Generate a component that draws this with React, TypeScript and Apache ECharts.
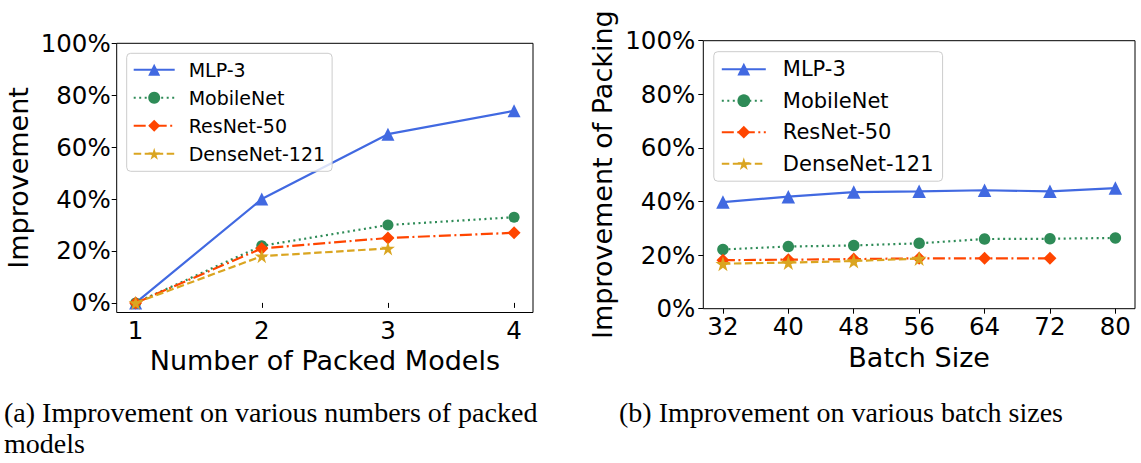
import React, { useEffect, useRef } from "react";
import * as echarts from "echarts";

const seriesNames = ["MLP-3", "MobileNet", "ResNet-50", "DenseNet-121"];

const packedModels = [1, 2, 3, 4];
const mlpPacked = [0, 40, 65, 74];
const mobilePacked = [0, 22, 30, 33];
const resnetPacked = [0, 21, 25, 27];
const densePacked = [0, 18, 21];

const batchSizes = [32, 40, 48, 56, 64, 72, 80];
const mlpBatch = [39.8, 41.8, 43.5, 43.8, 44.2, 43.8, 45.0];
const mobileBatch = [22.1, 23.2, 23.6, 24.4, 26.0, 26.1, 26.4];
const resnetBatch = [18.1, 18.3, 18.5, 18.8, 18.8, 18.8];
const denseBatch = [16.8, 17.2, 17.8, 18.7];

const yTicks = [0, 20, 40, 60, 80, 100];

const captionA1 = "(a) Improvement on various numbers of packed";
const captionA2 = "models";
const captionB = "(b) Improvement on various batch sizes";

const STAR =
  "path://M50 0 L61.23 34.55 L97.55 34.55 L68.17 55.9 L79.39 90.45 L50 69.1 L20.61 90.45 L31.83 55.9 L2.45 34.55 L38.77 34.55 Z";

const colors = ["#4169E1", "#2E8B57", "#FF4500", "#DAA520"];
const symbols = ["triangle", "circle", "diamond", STAR];
const dashes: any[] = ["solid", [2, 3.5], [12, 3.5, 2, 3.5], [7.5, 3.5]];

const FONT = "DejaVu Sans";

function zip(xs: number[], ys: number[]) {
  return ys.map((y, i) => [xs[i], y]);
}

export default function App() {
  const ref = useRef<HTMLDivElement>(null);
  useEffect(() => {
    if (!ref.current) return;
    const chart = echarts.init(ref.current, null, { renderer: "svg" });

    const packedData = [mlpPacked, mobilePacked, resnetPacked, densePacked];
    const batchData = [mlpBatch, mobileBatch, resnetBatch, denseBatch];
    const symSizeA = [13, 11, 13, 14];
    const symSizeB = [13.5, 11.5, 13, 15];

    const mkSeries = (idx: number, xs: number[], vals: number[], grid: number, size: number) => ({
      type: "line",
      name: seriesNames[idx],
      xAxisIndex: grid,
      yAxisIndex: grid,
      data: zip(xs, vals),
      symbol: symbols[idx],
      symbolSize: size,
      showSymbol: true,
      color: colors[idx],
      itemStyle: { color: colors[idx] },
      lineStyle: { color: colors[idx], width: 2.2, type: dashes[idx], cap: "butt" },
      z: 2 + idx,
    });

    const series: any[] = [];
    for (let i = 0; i < 4; i++) series.push(mkSeries(i, packedModels, packedData[i], 0, symSizeA[i]));
    for (let i = 0; i < 4; i++) series.push(mkSeries(i, batchSizes, batchData[i], 1, symSizeB[i]));

    const tickLabel = { fontFamily: FONT, fontSize: 24.5, color: "#000" };
    const nameStyle = { fontFamily: FONT, fontSize: 27, color: "#000" };
    const tick = { show: true, length: 5, inside: false, lineStyle: { color: "#000", width: 1 } };

    const legendCommon = {
      orient: "vertical",
      backgroundColor: "rgba(255,255,255,0.8)",
      borderColor: "#cccccc",
      borderWidth: 1,
      borderRadius: 4,
      data: seriesNames,
      selectedMode: false,
    };

    const option: any = {
      animation: false,
      grid: [
        { left: 116.7, top: 43.3, width: 416.3, height: 269.2, show: true, borderColor: "#000", borderWidth: 1, backgroundColor: "transparent" },
        { left: 703.3, top: 40.7, width: 431.7, height: 268, show: true, borderColor: "#000", borderWidth: 1, backgroundColor: "transparent" },
      ],
      xAxis: [
        {
          type: "value", gridIndex: 0, min: 0.85, max: 4.15,
          axisLine: { show: false }, splitLine: { show: false },
          axisTick: { ...tick, customValues: packedModels },
          axisLabel: { ...tickLabel, margin: 5, customValues: packedModels },
          name: "Number of Packed Models", nameLocation: "middle", nameGap: 31, nameTextStyle: nameStyle,
        },
        {
          type: "value", gridIndex: 1, min: 29.6, max: 82.4,
          axisLine: { show: false }, splitLine: { show: false },
          axisTick: { ...tick, customValues: batchSizes },
          axisLabel: { ...tickLabel, margin: 5, customValues: batchSizes },
          name: "Batch Size", nameLocation: "middle", nameGap: 31, nameTextStyle: nameStyle,
        },
      ],
      yAxis: [
        {
          type: "value", gridIndex: 0, min: -3.7, max: 100,
          axisLine: { show: false }, splitLine: { show: false },
          axisTick: { ...tick, customValues: yTicks },
          axisLabel: { ...tickLabel, margin: 6, customValues: yTicks, formatter: (v: number) => v + "%" },
          name: "Improvement", nameLocation: "middle", nameGap: 85, nameTextStyle: nameStyle,
        },
        {
          type: "value", gridIndex: 1, min: 0, max: 100,
          axisLine: { show: false }, splitLine: { show: false },
          axisTick: { ...tick, customValues: yTicks },
          axisLabel: { ...tickLabel, margin: 8, customValues: yTicks, formatter: (v: number) => v + "%" },
          name: "Improvement of Packing", nameLocation: "middle", nameGap: 87, nameTextStyle: nameStyle,
        },
      ],
      legend: [
        {
          ...legendCommon,
          left: 126.7, top: 53.3,
          padding: [7, 7, 8, 6],
          itemWidth: 41, itemHeight: 15, itemGap: 9,
          textStyle: { fontFamily: FONT, fontSize: 19, color: "#000", padding: [0, 0, 0, 9] },
        },
        {
          ...legendCommon,
          left: 713.8, top: 51.7,
          padding: [7, 9, 7, 7],
          itemWidth: 44, itemHeight: 16, itemGap: 10.5,
          textStyle: { fontFamily: FONT, fontSize: 21, color: "#000", padding: [0, 0, 0, 12] },
        },
      ],
      graphic: [
        { type: "text", left: 4, top: 398, style: { text: captionA1, font: "28px 'Liberation Serif'", fill: "#000" } },
        { type: "text", left: 4, top: 429, style: { text: captionA2, font: "28px 'Liberation Serif'", fill: "#000" } },
        { type: "text", left: 619, top: 398, style: { text: captionB, font: "28px 'Liberation Serif'", fill: "#000" } },
      ],
      series,
    };

    chart.setOption(option);
    return () => chart.dispose();
  }, []);

  return (
    <div
      ref={ref}
      style={{ position: "absolute", left: 0, top: 0, width: 1141, height: 463, background: "#fff" }}
    />
  );
}
